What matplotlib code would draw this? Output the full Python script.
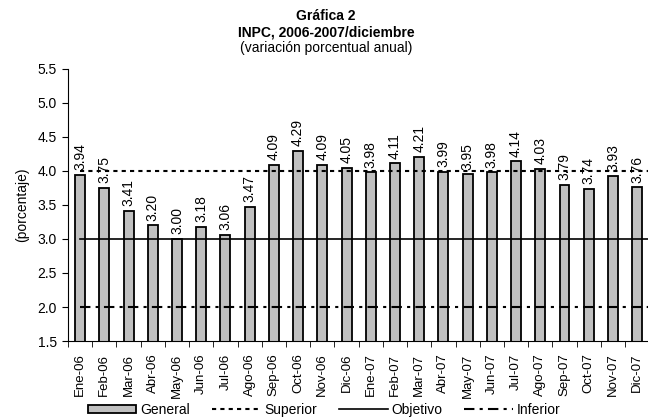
import numpy as np
import matplotlib
matplotlib.use("Agg")
import matplotlib.pyplot as plt

plt.rcParams['font.family'] = ['Liberation Sans', 'DejaVu Sans']

meses = ["Ene-06", "Feb-06", "Mar-06", "Abr-06", "May-06", "Jun-06", "Jul-06", "Ago-06",
         "Sep-06", "Oct-06", "Nov-06", "Dic-06", "Ene-07", "Feb-07", "Mar-07", "Abr-07",
         "May-07", "Jun-07", "Jul-07", "Ago-07", "Sep-07", "Oct-07", "Nov-07", "Dic-07"]
general = [3.94, 3.75, 3.41, 3.20, 3.00, 3.18, 3.06, 3.47, 4.09, 4.29, 4.09, 4.05,
           3.98, 4.11, 4.21, 3.99, 3.95, 3.98, 4.14, 4.03, 3.79, 3.74, 3.93, 3.76]
superior = 4.0
objetivo = 3.0
inferior = 2.0

fig = plt.figure(figsize=(6.48, 4.2), dpi=100)
# the original chart is cut off at the right edge
ax = fig.add_axes([0.105, 0.188, 0.897, 0.648])

x = np.arange(len(meses))
barras = ax.bar(x, general, width=0.41, color="#c0c0c0", edgecolor="black", linewidth=1.3,
                label="General", zorder=2)

xl = [0, len(meses) - 0.5]
l_sup, = ax.plot(xl, [superior] * 2, color="black", linestyle=(0, (2, 2)), linewidth=1.5,
                 label="Superior", zorder=3)
l_obj, = ax.plot(xl, [objetivo] * 2, color="black", linestyle="-", linewidth=1.2,
                 label="Objetivo", zorder=3)
l_inf, = ax.plot(xl, [inferior] * 2, color="black", linestyle=(0, (5, 2.5, 1.5, 2.5)),
                 linewidth=1.5, label="Inferior", zorder=3)

for xi, v in zip(x, general):
    ax.text(xi, v + 0.07, f"{v:.2f}", rotation=90, ha="center", va="bottom", fontsize=10)

yt = np.arange(1.5, 5.51, 0.5)
ax.set_xlim(-0.5, len(meses) - 0.5)
ax.set_ylim(1.5, 5.5)
ax.set_yticks(yt)
ax.set_yticklabels([f"{t:.1f}" for t in yt], fontsize=10)
ax.set_xticks(x)
ax.set_xticklabels(meses, rotation=90, fontsize=9.5)
ax.set_xticks(np.arange(-0.5, len(meses), 1), minor=True)
ax.tick_params(axis="x", which="major", length=0, pad=9)
ax.tick_params(axis="x", which="minor", length=4, direction="out")
ax.tick_params(axis="y", length=4, direction="out", pad=4)
ax.spines["top"].set_visible(False)
ax.spines["right"].set_visible(False)
ax.set_ylabel("(porcentaje)", fontsize=10, labelpad=6)

fig.text(0.503, 0.978, "Gráfica 2", ha="center", va="top", fontsize=10, fontweight="bold")
fig.text(0.503, 0.94, "INPC, 2006-2007/diciembre", ha="center", va="top", fontsize=10,
         fontweight="bold")
fig.text(0.503, 0.902, "(variación porcentual anual)", ha="center", va="top", fontsize=10)

fig.legend([barras, l_sup, l_obj, l_inf], ["General", "Superior", "Objetivo", "Inferior"],
           loc="center", bbox_to_anchor=(0.50, 0.024), ncol=4, frameon=False,
           fontsize=10, handlelength=3.5, handleheight=0.5, columnspacing=1.6,
           handletextpad=0.25, borderpad=0)

fig.savefig("out.png", dpi=100)
